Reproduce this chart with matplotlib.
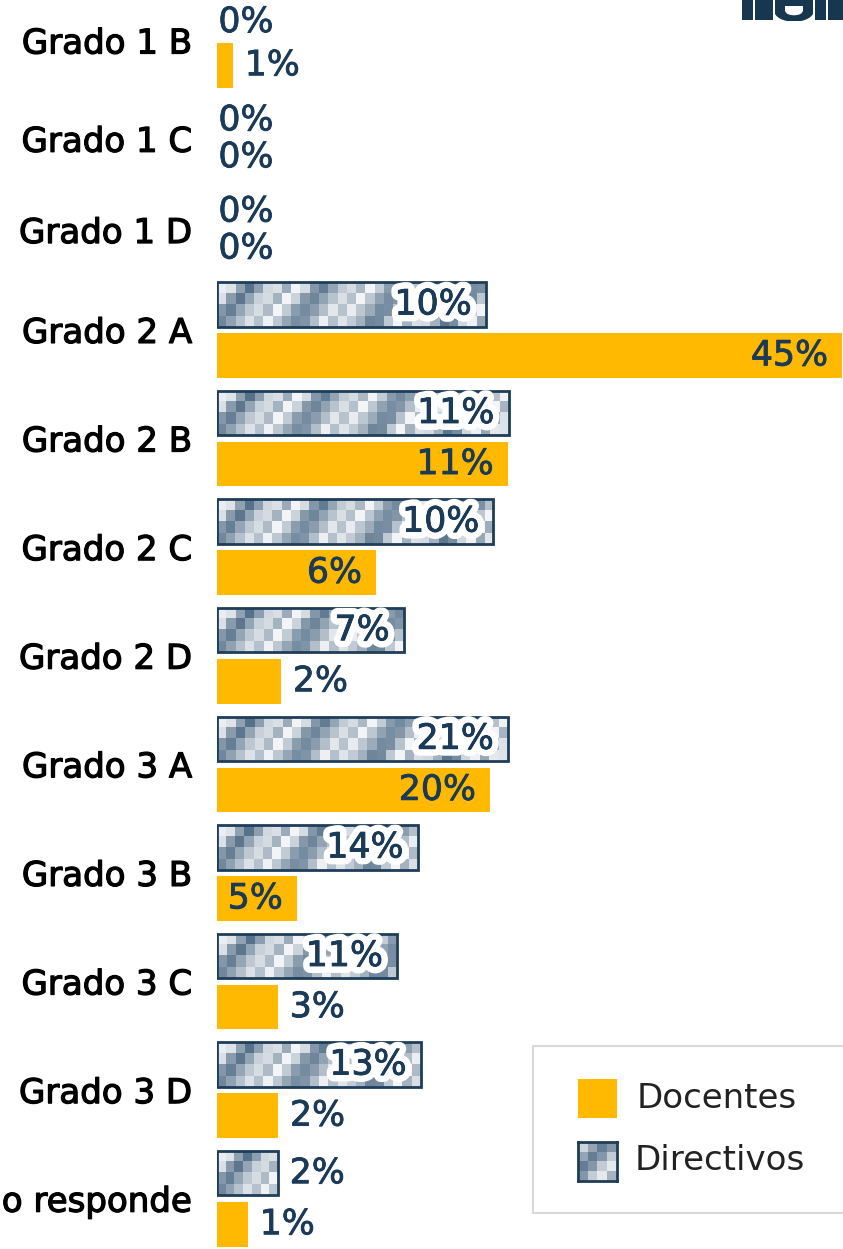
import numpy as np
import matplotlib
matplotlib.use("Agg")
import matplotlib.pyplot as plt
import matplotlib.patheffects as pe
from matplotlib.patches import Rectangle, Wedge

# ── data (values printed on bars, and bar lengths as drawn) ─────────────────
categories = ["Grado 1 B", "Grado 1 C", "Grado 1 D", "Grado 2 A", "Grado 2 B",
              "Grado 2 C", "Grado 2 D", "Grado 3 A", "Grado 3 B", "Grado 3 C",
              "Grado 3 D", "No responde"]
docentes_pct = [1, 0, 0, 45, 11, 6, 2, 20, 5, 3, 2, 1]
directivos_pct = [0, 0, 0, 10, 11, 10, 7, 21, 14, 11, 13, 2]
# bar lengths as they appear in the source (not proportional to labels)
docentes_len = [1.13, 0, 0, 45.0, 20.95, 11.45, 4.6, 19.65, 5.74, 4.37, 4.39, 2.21]
directivos_len = [0, 0, 0, 19.35, 21.0, 19.9, 13.44, 20.95, 14.45, 12.98, 14.67, 4.37]

ORANGE = "#FFB900"
NAVY = "#1b3a57"
EDGE = "#1f3d5a"
W, H = 843, 1249
PX_PER_UNIT = 625 / 45.0

plt.rcParams["font.family"] = ["DejaVu Sans"]

fig = plt.figure(figsize=(W / 100, H / 100), dpi=100)
ax = fig.add_axes([217 / W, 0, (W - 217) / W, 1])

# row heights: rows with empty bars are packed tighter
row_h = []
for d, r in zip(docentes_pct, directivos_pct):
    nz = (d > 0) + (r > 0)
    row_h.append({2: 1.0, 1: 0.97, 0: 0.84}[nz])
centers = [0.0]
for i in range(1, len(row_h)):
    centers.append(centers[-1] + (row_h[i - 1] + row_h[i]) / 2)
centers = np.array(centers)
row_h = np.array(row_h)
off = 0.235 * row_h
off_dir = np.where(np.array(directivos_pct) == 0, 0.17, off)
off_doc = np.where(np.array(docentes_pct) == 0, 0.17, off)
bh = 0.41

doc_bars = ax.barh(centers + off_doc, docentes_len, height=bh, color=ORANGE,
                   linewidth=0, zorder=2)
dir_bars = ax.barh(centers - off_dir, directivos_len, height=bh, facecolor="none",
                   edgecolor=EDGE, linewidth=2.0, zorder=4)

# checkered texture for Directivos
shades = np.array([0.95, 0.78, 0.45, 0.18, 0.35, 0.72, 0.92, 0.55])
dark = np.array([0x48, 0x65, 0x80]) / 255
light = np.array([0xf3, 0xf5, 0xf7]) / 255
for p in dir_bars.patches:
    L = p.get_width()
    if L <= 0:
        p.set_linewidth(0)
        continue
    y0 = p.get_y()
    ncol = max(1, int(round(L * PX_PER_UNIT / 9.3)))
    rows, cols = np.mgrid[0:4, 0:ncol]
    v = shades[(cols + rows) % len(shades)]
    v = np.clip(v + 0.1 * np.sin(cols * 1.7 + rows * 2.3), 0, 1)
    tex = dark + (light - dark) * v[..., None]
    im = ax.imshow(tex, extent=(0, L, y0 + bh, y0), aspect="auto",
                   interpolation="nearest", zorder=3)
    im.set_clip_path(p)

# value labels
pad_in = 14 / PX_PER_UNIT
pad_out = 12 / PX_PER_UNIT
thin = pe.withStroke(linewidth=0.6, foreground=NAVY)
halo = [pe.withStroke(linewidth=10, foreground="white"), thin]
for vals, lens, ys, is_dir in [(docentes_pct, docentes_len, centers + off_doc, False),
                               (directivos_pct, directivos_len, centers - off_dir, True)]:
    for v, L, y in zip(vals, lens, ys):
        txt = f"{v}%"
        kw = dict(va="center", fontsize=25, color=NAVY, zorder=6)
        if L == 0:
            t = ax.text(0.1, y, txt, ha="left", **kw)
        elif L >= 5:
            t = ax.text(L - pad_in, y, txt, ha="right", **kw)
        else:
            t = ax.text(L + pad_out, y, txt, ha="left", **kw)
        t.set_path_effects(halo if (is_dir and L >= 5) else [thin])

top = -40.5 / 108.6
ax.set_ylim(top + H / 108.6, top)
ax.set_xlim(0, (W - 217) / PX_PER_UNIT)
ax.set_yticks(centers)
ax.set_yticklabels(categories, fontsize=24.5, color="black")
for lab in ax.get_yticklabels():
    lab.set_path_effects([pe.withStroke(linewidth=0.9, foreground="black")])
ax.tick_params(axis="y", length=0, pad=18)
ax.set_xticks([])
for s in ax.spines.values():
    s.set_visible(False)


def fx(x):
    return x / W


def fy(y):
    return 1 - y / H


# legend box
fig.add_artist(Rectangle((fx(533), fy(1213)), fx(843) - fx(533) + 0.01, (1213 - 1046) / H,
                         transform=fig.transFigure, facecolor="white",
                         edgecolor="#d9d9d9", linewidth=1.5, zorder=5))
fig.add_artist(Rectangle((fx(578), fy(1118)), 39 / W, 39 / H, transform=fig.transFigure,
                         facecolor=ORANGE, linewidth=0, zorder=6))
sw = fig.add_axes([fx(578), fy(1181), 39 / W, 39 / H], zorder=7)
rows, cols = np.mgrid[0:4, 0:4]
v = shades[(cols + rows + 1) % len(shades)]
sw.imshow(dark + (light - dark) * v[..., None], aspect="auto", interpolation="nearest")
sw.set_xticks([])
sw.set_yticks([])
for s in sw.spines.values():
    s.set_color(EDGE)
    s.set_linewidth(2.0)
fig.text(fx(637), fy(1098), "Docentes", fontsize=24.5, color="#222222", va="center", zorder=8)
fig.text(fx(635), fy(1161), "Directivos", fontsize=24.5, color="#222222", va="center", zorder=8)

# logo fragment (top right)
LOGO = "#17364f"
for x0, x1 in [(742, 753), (755, 773), (815, 826), (828, 843)]:
    fig.add_artist(Rectangle((fx(x0), fy(20)), (x1 - x0) / W, 20 / H,
                             transform=fig.transFigure, facecolor=LOGO, linewidth=0))
fig.add_artist(Rectangle((fx(775), fy(6)), 38 / W, 6 / H, transform=fig.transFigure,
                         facecolor=LOGO, linewidth=0))
fig.add_artist(Rectangle((fx(775), fy(12)), 10 / W, 6 / H, transform=fig.transFigure,
                         facecolor=LOGO, linewidth=0))
fig.add_artist(Rectangle((fx(803), fy(12)), 10 / W, 6 / H, transform=fig.transFigure,
                         facecolor=LOGO, linewidth=0))
lax = fig.add_axes([fx(775), fy(21), 38 / W, 10 / H])
lax.add_patch(Wedge((0.5, 1), 0.5, 180, 360, width=0.25, color=LOGO))
lax.set_xlim(0, 1)
lax.set_ylim(0.5, 1)
lax.axis("off")

fig.savefig("out.png", dpi=100)
